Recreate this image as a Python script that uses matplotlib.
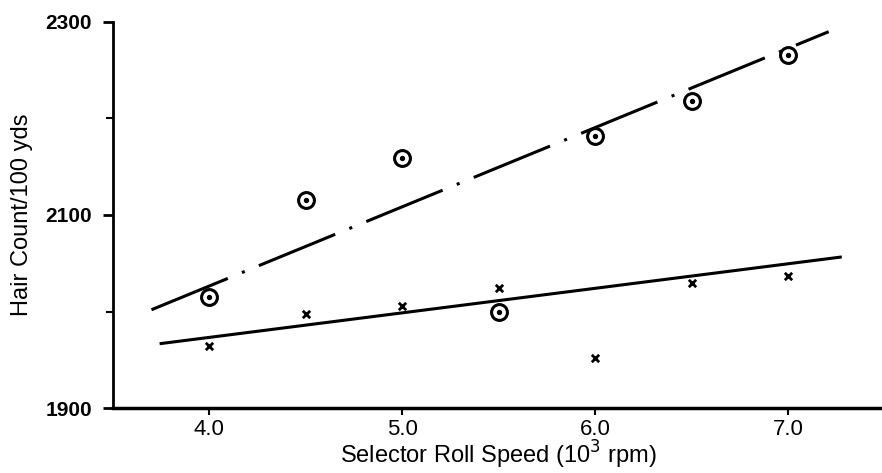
import numpy as np
import matplotlib
matplotlib.use("Agg")
import matplotlib.pyplot as plt

# roll speed (10^3 rpm)
speed = [4.0, 4.5, 5.0, 5.5, 6.0, 6.5, 7.0]
# hair count / 100 yds, two series
circles = [2015, 2115, 2159, 2000, 2182, 2218, 2266]
crosses = [1964, 1998, 2006, 2024, 1952, 2030, 2037]

# fitted lines as drawn: (x start, x end, slope, intercept at x=4)
fit_circles = (3.70, 7.21, 82.0, 2026.5)
fit_crosses = (3.75, 7.27, 25.4, 1973.3)

xticks = [4.0, 5.0, 6.0, 7.0]
yticks = [1900, 2100, 2300]
yminor = [2000, 2200]

plt.rcParams['font.family'] = ['Liberation Sans', 'DejaVu Sans']

fig = plt.figure(figsize=(8.82, 4.73), dpi=100)
ax = fig.add_axes([0.128, 0.137, 0.875, 0.817])


def fit_line(p):
    x0, x1, m, b = p
    xs = np.array([x0, x1])
    return xs, b + m * (xs - 4.0)


xs, ys = fit_line(fit_circles)
ax.plot(xs, ys, color='black', lw=2.2,
        linestyle=(0, (27, 5, 1, 5)), solid_capstyle='butt')
xs, ys = fit_line(fit_crosses)
ax.plot(xs, ys, color='black', lw=2.2)

ax.scatter(speed, circles, s=130, facecolors='white', edgecolors='black',
           linewidths=2.2, zorder=3)
ax.scatter(speed, circles, s=8, color='black', zorder=4)
ax.scatter(speed, crosses, s=28, marker='x', color='black',
           linewidths=2.0, zorder=3)

ax.set_xlim(3.5, 7.5)
ax.set_ylim(1900, 2300)
ax.set_xticks(xticks)
ax.set_xticklabels(['%.1f' % v for v in xticks])
ax.set_yticks(yticks)
ax.set_yticks(yminor, minor=True)
ax.set_yticklabels([str(v) for v in yticks])

for side in ['top', 'right']:
    ax.spines[side].set_visible(False)
ax.spines['left'].set_linewidth(2)
ax.spines['bottom'].set_linewidth(2.5)

ax.tick_params(axis='y', which='major', direction='out', length=7,
               width=2, pad=8, labelsize=15)
ax.tick_params(axis='y', which='minor', direction='out', length=5, width=1.5)
ax.tick_params(axis='x', direction='out', length=5, width=1.5, pad=3,
               labelsize=16)
for lab in ax.get_yticklabels():
    lab.set_fontweight('bold')

ax.set_xlabel('Selector Roll Speed (10$^3$ rpm)', fontsize=17, labelpad=-1)
ax.set_ylabel('Hair Count/100 yds', fontsize=17, labelpad=9)

fig.savefig('out.png', dpi=100)
